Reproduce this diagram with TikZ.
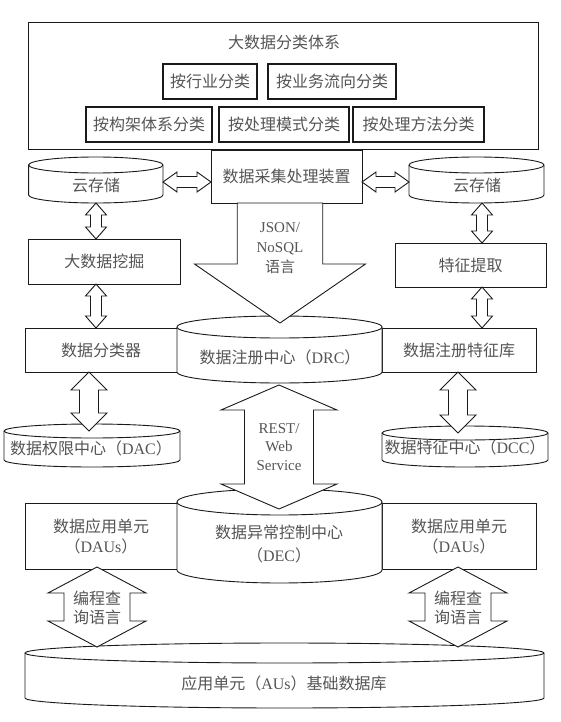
\documentclass[tikz,border=0pt]{standalone}
\usepackage{fontspec}
\setmainfont{Noto Sans CJK SC}
\newfontfamily\latf{Liberation Serif}
\usetikzlibrary{calc}
\newcommand\lat[1]{{\latf #1}}
\definecolor{txt}{HTML}{555555}
\definecolor{ln}{HTML}{1A1A1A}
% vertical double block arrow: top coord, bottom coord, head half width, shaft half width, head length
\newcommand\vdarrow[5]{%
 \path[blk] let \p1=(#1), \p2=(#2) in (\x1,\y1) -- ({\x1+#3pt},{\y1-#5pt}) -- ({\x1+#4pt},{\y1-#5pt}) -- ({\x1+#4pt},{\y2+#5pt}) -- ({\x1+#3pt},{\y2+#5pt}) -- (\x1,\y2) -- ({\x1-#3pt},{\y2+#5pt}) -- ({\x1-#4pt},{\y2+#5pt}) -- ({\x1-#4pt},{\y1-#5pt}) -- ({\x1-#3pt},{\y1-#5pt}) -- cycle;}
% horizontal double block arrow: left coord, right coord, head half height, shaft half height, head length
\newcommand\hdarrow[5]{%
 \path[blk] let \p1=(#1), \p2=(#2) in (\x1,\y1) -- ({\x1+#5pt},{\y1+#3pt}) -- ({\x1+#5pt},{\y1+#4pt}) -- ({\x2-#5pt},{\y1+#4pt}) -- ({\x2-#5pt},{\y1+#3pt}) -- (\x2,\y1) -- ({\x2-#5pt},{\y1-#3pt}) -- ({\x2-#5pt},{\y1-#4pt}) -- ({\x1+#5pt},{\y1-#4pt}) -- ({\x1+#5pt},{\y1-#3pt}) -- cycle;}
% cylinder: x1, x2, y of top ellipse centre, y of bottom ellipse centre, y radius
\newcommand\dbcyl[5]{%
 \pgfmathsetmacro\rx{(#2-#1)/2}%
 \path[line,fill=white] (#1,#3) -- (#1,#4) arc[start angle=180,end angle=360,x radius=\rx pt,y radius=#5pt] -- (#2,#3) arc[start angle=0,end angle=180,x radius=\rx pt,y radius=#5pt] -- cycle;
 \path[line] (#1,#3) arc[start angle=180,end angle=360,x radius=\rx pt,y radius=#5pt];}
\begin{document}
\begin{tikzpicture}[x=1pt,y=-1pt,
 line/.style={draw=ln,line width=0.9pt},
 box/.style={line,fill=white,inner sep=0pt,text=txt,font=\fontsize{16}{20}\selectfont},
 catbox/.style={box,line width=1.3pt},
 lbl/.style={inner sep=0pt,text=txt,font=\fontsize{16}{20}\selectfont,align=center},
 albl/.style={lbl,font=\fontsize{15}{20}\selectfont},
 blk/.style={line,fill=white,line join=miter}]
\useasboundingbox (0,0) rectangle (560,722);
\fill[white] (0,0) rectangle (560,722);

% classification system
\node[box,minimum width=509.4pt,minimum height=127pt] (sys) at (283.3,85.5) {};
\node[lbl] (systitle) at (284,42) {大数据分类体系};
\node[catbox,minimum width=94pt,minimum height=35pt] (c1) at (210,81.5) {按行业分类};
\node[catbox,minimum width=128pt,minimum height=35pt] (c2) at (332,81.5) {按业务流向分类};
\node[catbox,minimum width=126pt,minimum height=35pt] (c3) at (149,124.5) {按构架体系分类};
\node[catbox,minimum width=130pt,minimum height=35pt] (c4) at (284,124.5) {按处理模式分类};
\node[catbox,minimum width=131pt,minimum height=35pt] (c5) at (418.5,124.5) {按处理方法分类};

% collection device and cloud storage
\node[box,minimum width=151pt,minimum height=53pt] (collect) at (286.5,176.5) {数据采集处理装置};
\dbcyl{28.6}{163}{165}{195}{8}
\node[lbl] (cloudL) at (96,185) {云存储};
\dbcyl{409}{544}{165}{195}{8}
\node[lbl] (cloudR) at (477,185) {云存储};
\coordinate (hl1) at (163,182); \coordinate (hl2) at (211,182);
\coordinate (hr1) at (362,182); \coordinate (hr2) at (409,182);
\hdarrow{hl1}{hl2}{10}{5.5}{14}
\hdarrow{hr1}{hr2}{10}{5.5}{14}

% side columns
\node[box,minimum width=151.4pt,minimum height=45pt] (mine) at (104.3,261.5) {大数据挖掘};
\node[box,minimum width=151pt,minimum height=44pt] (feat) at (470.5,265) {特征提取};
\node[box,minimum width=152pt,minimum height=44pt] (cls) at (101,350) {数据分类器};
\node[box,minimum width=154pt,minimum height=44pt] (flib) at (459,350) {数据注册特征库};
\coordinate (v1a) at (96,203); \coordinate (v1b) at (96,239);
\coordinate (v2a) at (96,284); \coordinate (v2b) at (96,328);
\coordinate (v3a) at (482,203); \coordinate (v3b) at (482,243);
\coordinate (v4a) at (482,287); \coordinate (v4b) at (482,328);
\vdarrow{v1a}{v1b}{10.5}{5.5}{12}
\vdarrow{v2a}{v2b}{10.5}{5.5}{12}
\vdarrow{v3a}{v3b}{10.5}{5.5}{12}
\vdarrow{v4a}{v4b}{10.5}{5.5}{12}

% DRC
\dbcyl{177}{382}{327}{372}{11}
\node[lbl] (drc) at (280,357) {数据注册中心（\lat{DRC}）};
\coordinate (jt) at (280,203); \coordinate (jb) at (280,323);
\path[blk] let \p1=(jt), \p2=(jb) in ({\x1-42.75pt},\y1) -- ({\x1-42.75pt},{\y2+59pt}) -- ({\x1-85.5pt},{\y2+59pt}) -- (\x2,\y2) -- ({\x1+85.5pt},{\y2+59pt}) -- ({\x1+42.75pt},{\y2+59pt}) -- ({\x1+42.75pt},\y1) -- cycle;
\node[albl] (json) at (280,248) {\lat{JSON/}\\\lat{NoSQL}\\语言};

% DAC / DCC
\dbcyl{4}{180}{431}{460}{7}
\node[lbl] (dac) at (91,448) {数据权限中心（\lat{DAC}）};
\dbcyl{382}{548}{433}{460}{7}
\node[lbl] (dcc) at (465,447) {数据特征中心（\lat{DCC}）};
\coordinate (b1a) at (89,372); \coordinate (b1b) at (89,431);
\coordinate (b2a) at (458,372); \coordinate (b2b) at (458,433);
\vdarrow{b1a}{b1b}{18}{9.5}{18}
\vdarrow{b2a}{b2b}{18}{9.5}{18}

% DAUs and DEC
\node[box,minimum width=152pt,minimum height=66pt,align=center] (dauL) at (101,536) {数据应用单元\\（\lat{DAUs}）};
\node[box,minimum width=154pt,minimum height=66pt,align=center] (dauR) at (459,536) {数据应用单元\\（\lat{DAUs}）};
\dbcyl{177}{382}{502}{570}{13}
\node[lbl,font=\fontsize{16}{23}\selectfont] (dec) at (279,544.5) {数据异常控制中心\\（\lat{DEC}）};
\coordinate (ra) at (279,385); \coordinate (rb) at (279,509);
\vdarrow{ra}{rb}{58}{34.5}{25}
\node[albl,font=\fontsize{15}{18.5}\selectfont] (rest) at (279,447) {\lat{REST/}\\\lat{Web}\\\lat{Service}};

% base database
\dbcyl{25}{544}{653}{698}{10}
\node[lbl] (base) at (284,683) {应用单元（\lat{AUs}）基础数据库};
\coordinate (la1) at (97,567); \coordinate (la2) at (97,647);
\coordinate (lb1) at (458,567); \coordinate (lb2) at (458,647);
\vdarrow{la1}{la2}{49}{33}{26}
\vdarrow{lb1}{lb2}{49}{33}{26}
\node[lbl,font=\fontsize{16}{19}\selectfont] (langL) at (97,607.5) {编程查\\询语言};
\node[lbl,font=\fontsize{16}{19}\selectfont] (langR) at (458,607.5) {编程查\\询语言};
\end{tikzpicture}
\end{document}
